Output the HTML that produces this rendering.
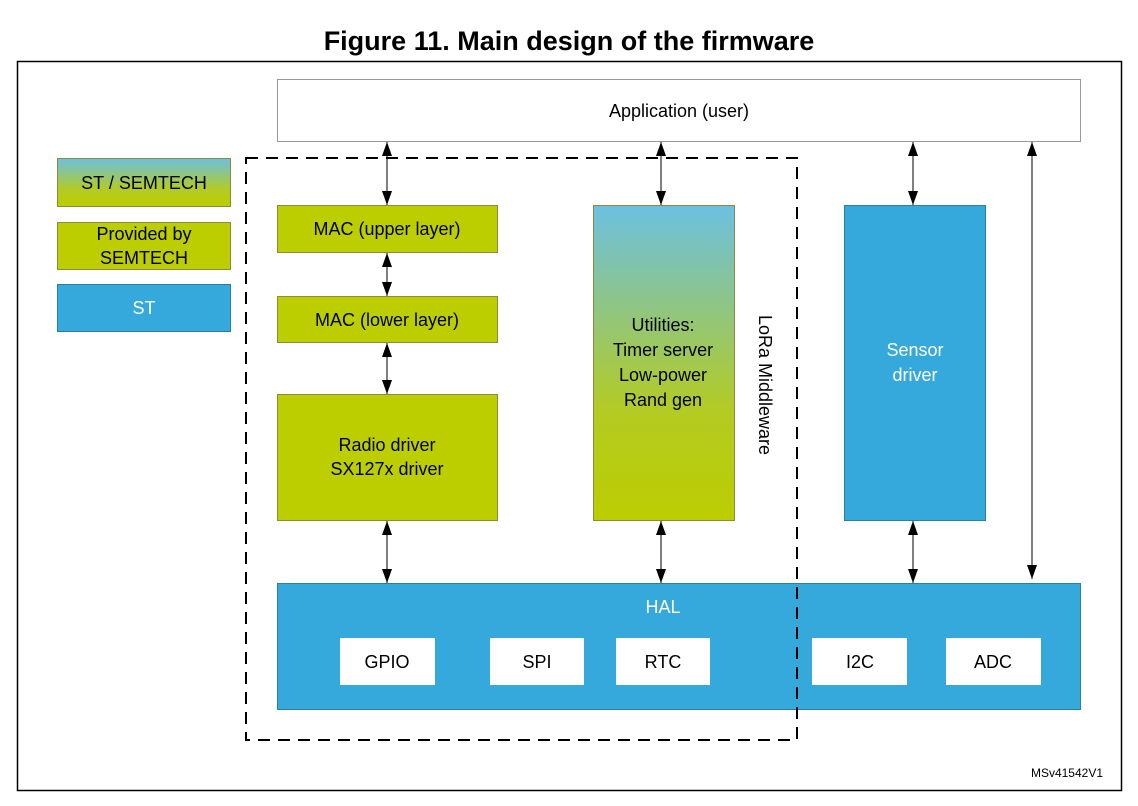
<!DOCTYPE html>
<html><head><meta charset="utf-8"><style>body{margin:0;background:#fff}svg{display:block}text{font-family:"Liberation Sans",Arial,sans-serif}</style></head>
<body>
<svg width="1138" height="806" viewBox="0 0 1138 806" xmlns="http://www.w3.org/2000/svg">
<defs>
<linearGradient id="g" x1="0" y1="0" x2="0" y2="1"><stop offset="0" stop-color="#6cc0e2"/><stop offset="0.65" stop-color="#b3cb23"/><stop offset="1" stop-color="#bccd00"/></linearGradient>
<marker id="a" viewBox="0 0 14 10" refX="14" refY="5" markerWidth="14" markerHeight="10" markerUnits="userSpaceOnUse" orient="auto-start-reverse"><path d="M0,0L14,5L0,10z" fill="#000"/></marker>
</defs>
<text x="569" y="50" font-size="27" font-weight="bold" text-anchor="middle">Figure 11. Main design of the firmware</text>
<rect x="17.5" y="61.5" width="1104" height="729" fill="none" stroke="#000" stroke-width="1.5"/>
<rect x="277.5" y="79.5" width="803" height="62" fill="#fff" stroke="#999"/>
<text x="679" y="117" font-size="18" text-anchor="middle">Application (user)</text>
<rect x="57.5" y="158.5" width="173" height="48" fill="url(#g)" stroke="#8a8a40"/>
<text x="144" y="189" font-size="18" text-anchor="middle">ST / SEMTECH</text>
<rect x="57.5" y="222.5" width="173" height="47" fill="#bccd00" stroke="#8a8a40"/>
<text x="144" y="240" font-size="18" text-anchor="middle">Provided by</text>
<text x="144" y="264" font-size="18" text-anchor="middle">SEMTECH</text>
<rect x="57.5" y="284.5" width="173" height="47" fill="#36a9dc" stroke="#2a7fa6"/>
<text x="144" y="314" font-size="18" fill="#fff" text-anchor="middle">ST</text>
<rect x="277.5" y="583.5" width="803" height="126" fill="#36a9dc" stroke="#2a7fa6"/>
<text x="663" y="613" font-size="18" fill="#fff" text-anchor="middle">HAL</text>
<g fill="#fff"><rect x="340" y="638" width="95" height="47"/><rect x="490" y="638" width="94" height="47"/><rect x="616" y="638" width="94" height="47"/><rect x="812" y="638" width="95" height="47"/><rect x="946" y="638" width="95" height="47"/></g>
<g font-size="18" text-anchor="middle"><text x="387" y="668">GPIO</text><text x="537" y="668">SPI</text><text x="663" y="668">RTC</text><text x="860" y="668">I2C</text><text x="993" y="668">ADC</text></g>
<rect x="277.5" y="205.5" width="220" height="47" fill="#bccd00" stroke="#8a8a40"/>
<text x="387" y="235" font-size="18" text-anchor="middle">MAC (upper layer)</text>
<rect x="277.5" y="296.5" width="220" height="46" fill="#bccd00" stroke="#8a8a40"/>
<text x="387" y="326" font-size="18" text-anchor="middle">MAC (lower layer)</text>
<rect x="277.5" y="394.5" width="220" height="126" fill="#bccd00" stroke="#8a8a40"/>
<text x="387" y="451" font-size="18" text-anchor="middle">Radio driver</text>
<text x="387" y="475" font-size="18" text-anchor="middle">SX127x driver</text>
<rect x="593.5" y="205.5" width="141" height="315" fill="url(#g)" stroke="#8a8a40"/>
<g font-size="18" text-anchor="middle"><text x="663" y="331">Utilities:</text><text x="663" y="356">Timer server</text><text x="663" y="381">Low-power</text><text x="663" y="406">Rand gen</text></g>
<rect x="844.5" y="205.5" width="141" height="315" fill="#36a9dc" stroke="#2a7fa6"/>
<text x="915" y="356" font-size="18" fill="#fff" text-anchor="middle">Sensor</text>
<text x="915" y="381" font-size="18" fill="#fff" text-anchor="middle">driver</text>
<text transform="translate(759,385) rotate(90)" font-size="18" text-anchor="middle">LoRa Middleware</text>
<rect x="246" y="158" width="551" height="582" fill="none" stroke="#000" stroke-width="2" stroke-dasharray="12,8"/>
<g stroke="#000" stroke-width="1" marker-start="url(#a)" marker-end="url(#a)">
<line x1="387" y1="142" x2="387" y2="205"/><line x1="387" y1="253" x2="387" y2="296"/><line x1="387" y1="343" x2="387" y2="394"/><line x1="387" y1="521" x2="387" y2="583"/>
<line x1="661" y1="142" x2="661" y2="205"/><line x1="661" y1="521" x2="661" y2="583"/>
<line x1="913" y1="142" x2="913" y2="205"/><line x1="913" y1="521" x2="913" y2="583"/>
<line x1="1032" y1="142" x2="1032" y2="579"/>
</g>
<text x="1103" y="777" font-size="12" text-anchor="end">MSv41542V1</text>
</svg>
</body></html>
